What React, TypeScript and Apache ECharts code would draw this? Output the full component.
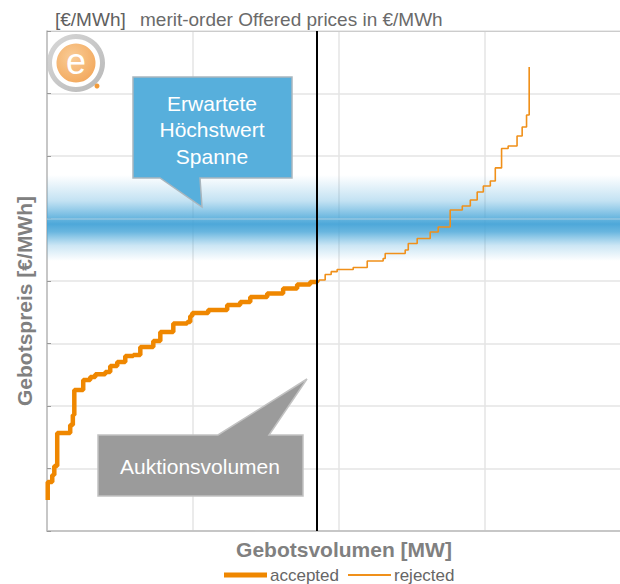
import React, { useEffect, useRef } from "react";
import * as echarts from "echarts";

// ---- data ----
const volumeMax = 3924; // MW, right edge of the visible plot
const volumeInterval = 1000;
const priceMax = 160; // €/MWh
const priceInterval = 20;

const acceptedVolume = [5, 5, 36, 36, 50, 50, 70, 70, 159, 159, 177, 177, 187, 187, 248, 248, 296, 331, 399, 433, 481, 536, 591, 639, 728, 776, 865, 960, 981, 995, 1104, 1234, 1323, 1392, 1508, 1617, 1713, 1802, 1850];
const acceptedPrice = [9.9, 15.7, 15.7, 17.9, 17.9, 20.8, 20.8, 31.4, 31.4, 33.9, 33.9, 37.1, 37.1, 45.1, 45.1, 48.3, 49.3, 50.2, 50.9, 52.8, 54.1, 56, 56.3, 58.9, 60.8, 63.7, 66.4, 66.9, 68.8, 69.8, 70.7, 72.3, 73.3, 74.9, 76, 77.6, 78.9, 79.7, 80];

const rejectedVolume = [1850, 1864, 1905, 1946, 1987, 2097, 2193, 2302, 2316, 2453, 2474, 2535, 2624, 2679, 2761, 2761, 2844, 2899, 2946, 2988, 3036, 3070, 3113, 3113, 3158, 3219, 3254, 3284, 3284, 3302, 3302];
const rejectedPrice = [80, 80.3, 82.1, 83, 83.7, 84.3, 86.4, 87.2, 88.8, 89.9, 92, 93.6, 95.7, 97.3, 98.9, 102.7, 104, 105.9, 108.5, 110.4, 112, 116.2, 116.5, 122.4, 123.2, 126.4, 129.3, 129.4, 133.1, 136.6, 148.5];

const auctionVolume = 1850;
const expectedBand = [86.4, 113.9];
const expectedCenter = 100;

const seriesNames = ["accepted", "rejected"];
const titleText = "merit-order Offered prices in €/MWh";
const unitText = "[€/MWh]";
const xName = "Gebotsvolumen [MW]";
const yName = "Gebotspreis [€/MWh]";
const calloutBlue = "Erwartete\nHöchstwert\nSpanne";
const calloutGray = "Auktionsvolumen";

const FONT = "'Liberation Sans', Arial, Helvetica, sans-serif";
const ORANGE = "#EF8700";
const ORANGE_LIGHT = "#F0901A";

export default function App() {
  const ref = useRef<HTMLDivElement>(null);

  useEffect(() => {
    if (!ref.current) return;
    const chart = echarts.init(ref.current, undefined, { renderer: "svg" });

    const accepted = acceptedVolume.map((v, i) => [v, acceptedPrice[i]]);
    const rejected = rejectedVolume.map((v, i) => [v, rejectedPrice[i]]);

    const bandGradient = new echarts.graphic.LinearGradient(0, 0, 0, 1, [
      { offset: 0, color: "rgba(84,172,220,0)" },
      { offset: 0.3, color: "rgba(84,172,220,0.35)" },
      { offset: 0.5, color: "rgba(72,166,216,0.82)" },
      { offset: 0.57, color: "rgba(68,163,215,0.95)" },
      { offset: 0.66, color: "rgba(72,166,216,0.82)" },
      { offset: 0.82, color: "rgba(84,172,220,0.3)" },
      { offset: 1, color: "rgba(84,172,220,0)" },
    ]);

    const axisLineStyle = { color: "#BBBBBB", width: 1.5 };
    const split = { show: true, showMaxLine: false, lineStyle: { color: "#E4E4E4", width: 1.5 } };

    const option: any = {
      animation: false,
      backgroundColor: "#fff",
      textStyle: { fontFamily: FONT },
      grid: { left: 47, top: 31, bottom: 53, right: 0, show: false, containLabel: false },
      xAxis: [
        {
          type: "value",
          position: "bottom",
          min: 0,
          max: volumeMax,
          interval: volumeInterval,
          name: xName,
          nameLocation: "middle",
          nameGap: 8,
          nameTextStyle: { fontSize: 21, fontWeight: "bold", color: "#808080", fontFamily: FONT, padding: [0, 0, 0, 21] },
          axisLabel: { show: false },
          axisTick: { show: false },
          axisLine: { show: true, onZero: false, lineStyle: axisLineStyle },
          splitLine: split,
        },
        {
          type: "value",
          position: "top",
          min: 0,
          max: volumeMax,
          interval: volumeInterval,
          axisLabel: { show: false },
          axisTick: { show: false },
          axisLine: { show: true, onZero: false, lineStyle: { color: "#CCCCCC", width: 1 } },
          splitLine: { show: false },
        },
      ],
      yAxis: {
        type: "value",
        min: 0,
        max: priceMax,
        interval: priceInterval,
        name: yName,
        nameLocation: "middle",
        nameGap: 12,
        nameTextStyle: { fontSize: 21, fontWeight: "bold", color: "#808080", fontFamily: FONT, padding: [0, 40, 0, 0] },
        axisLabel: { show: false },
        axisTick: { show: true, inside: true, length: 4, lineStyle: { color: "#999" } },
        axisLine: { show: true, onZero: false, lineStyle: axisLineStyle },
        splitLine: { show: true, lineStyle: { color: "#E4E4E4", width: 1.5 } },
      },
      series: [
        {
          name: "band",
          type: "line",
          data: [],
          z: 1,
          silent: true,
          markArea: {
            silent: true,
            z: 1,
            itemStyle: { color: bandGradient },
            data: [[{ yAxis: expectedBand[0] }, { yAxis: expectedBand[1] }]],
          },
          markLine: {
            silent: true,
            z: 1,
            symbol: "none",
            label: { show: false },
            lineStyle: { color: "rgba(225,232,238,0.4)", width: 1.5, type: "solid" },
            data: [{ yAxis: expectedCenter }],
          },
        },
        {
          name: seriesNames[0],
          type: "line",
          data: accepted,
          step: "end",
          symbol: "none",
          z: 3,
          color: ORANGE,
          lineStyle: { color: ORANGE, width: 4.5 },
          markLine: {
            silent: true,
            symbol: "none",
            label: { show: false },
            lineStyle: { color: "#000", width: 2, type: "solid" },
            data: [{ xAxis: auctionVolume }],
          },
        },
        {
          name: seriesNames[1],
          type: "line",
          data: rejected,
          step: "end",
          symbol: "none",
          z: 3,
          color: ORANGE_LIGHT,
          lineStyle: { color: ORANGE_LIGHT, width: 1.6 },
        },
      ],
      graphic: [
        {
          type: "text",
          left: 55,
          top: 10,
          style: { text: unitText, font: `19px ${FONT}`, fill: "#606060" },
        },
        {
          type: "text",
          left: 140,
          top: 10,
          style: { text: titleText, font: `19px ${FONT}`, fill: "#6A6A6A" },
        },
        // legend
        { type: "line", shape: { x1: 224, y1: 575, x2: 267, y2: 575 }, style: { stroke: ORANGE, lineWidth: 5 } },
        {
          type: "text",
          x: 270,
          y: 575,
          style: { text: seriesNames[0], font: `17px ${FONT}`, fill: "#666", verticalAlign: "middle" },
        },
        { type: "line", shape: { x1: 348, y1: 575, x2: 391, y2: 575 }, style: { stroke: ORANGE_LIGHT, lineWidth: 2 } },
        {
          type: "text",
          x: 394,
          y: 575,
          style: { text: seriesNames[1], font: `17px ${FONT}`, fill: "#666", verticalAlign: "middle" },
        },
        // logo
        {
          type: "group",
          x: 76,
          y: 63,
          z: 50,
          children: [
            { type: "circle", shape: { cx: 0, cy: 0, r: 27 }, style: { fill: "#fff" } },
            {
              type: "ring",
              shape: { cx: 0, cy: 0, r: 29, r0: 24 },
              style: {
                fill: new echarts.graphic.LinearGradient(0, 0, 1, 1, [
                  { offset: 0, color: "#D8D8D8" },
                  { offset: 1, color: "#B8B8B8" },
                ]),
              },
            },
            {
              type: "circle",
              shape: { cx: 0, cy: 0, r: 19.5 },
              style: {
                fill: new echarts.graphic.RadialGradient(0.4, 0.35, 0.8, [
                  { offset: 0, color: "#F9CC97" },
                  { offset: 1, color: "#F2A455" },
                ]),
              },
            },
            {
              type: "text",
              x: 0,
              y: -2,
              style: { text: "e", font: `36px ${FONT}`, fill: "#fff", align: "center", verticalAlign: "middle" },
            },
            { type: "circle", shape: { cx: 21, cy: 23, r: 2.5 }, style: { fill: "#F29A38" } },
          ],
        },
        // blue callout
        {
          type: "polygon",
          z: 60,
          shape: {
            points: [
              [133, 77], [292, 77], [292, 178], [200, 178], [202, 207], [160, 178], [133, 178],
            ],
          },
          style: { fill: "#57AFDC", stroke: "#A9B6BE", lineWidth: 1.5 },
        },
        {
          type: "text",
          z: 61,
          x: 212,
          y: 129.5,
          style: {
            text: calloutBlue,
            font: `21px ${FONT}`,
            fill: "#fff",
            align: "center",
            verticalAlign: "middle",
            lineHeight: 26.5,
          },
        },
        // gray callout
        {
          type: "polygon",
          z: 60,
          shape: {
            points: [
              [98, 435], [218, 435], [307, 379], [269, 435], [303, 435], [303, 496], [98, 496],
            ],
          },
          style: { fill: "#9B9B9B", stroke: "#C2C2C2", lineWidth: 1.5 },
        },
        {
          type: "text",
          z: 61,
          x: 200,
          y: 466,
          style: {
            text: calloutGray,
            font: `21px ${FONT}`,
            fill: "#fff",
            align: "center",
            verticalAlign: "middle",
          },
        },
      ],
    };

    chart.setOption(option);
    return () => chart.dispose();
  }, []);

  return (
    <div
      ref={ref}
      style={{ position: "fixed", left: 0, top: 0, width: 620, height: 584, background: "#fff" }}
    />
  );
}
